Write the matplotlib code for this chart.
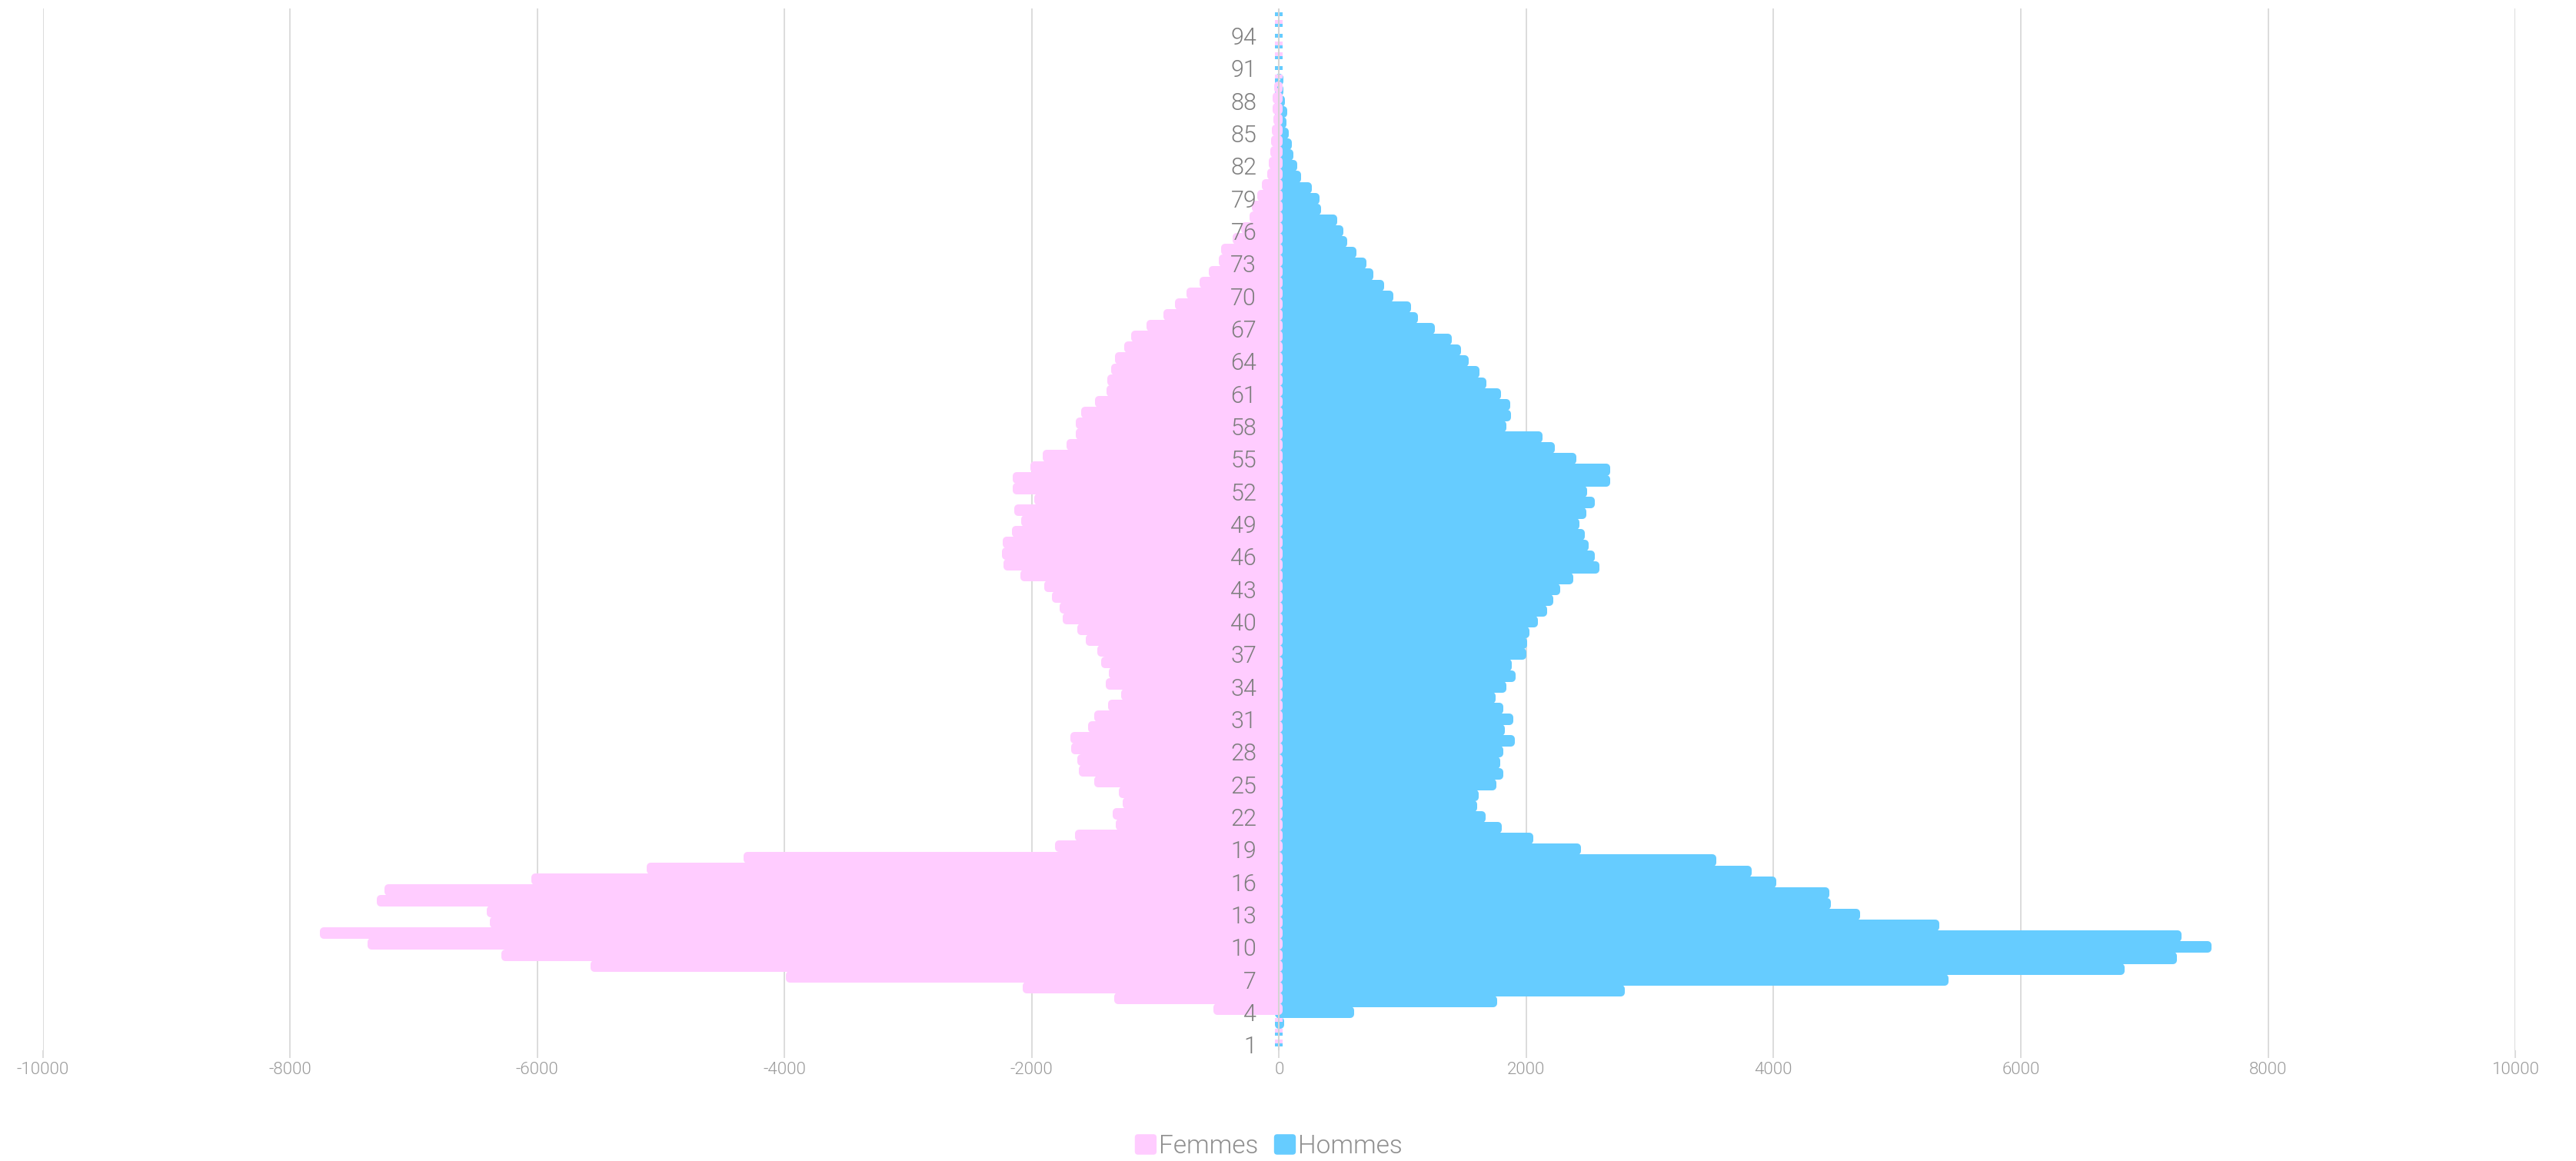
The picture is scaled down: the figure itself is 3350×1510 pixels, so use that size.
"""Pyramide des âges, femmes / hommes."""

import matplotlib

matplotlib.use("Agg")
import matplotlib.pyplot as plt
import numpy as np
from matplotlib.legend_handler import HandlerPatch
from matplotlib.patches import FancyBboxPatch, Patch


AGES = list(range(1, 97))

# effectifs par âge (1 -> 96), femmes en négatif
FEMMES = [
    -30, -30, -35, -528, -1331, -2071, -3988, -5568, -6291, -7374,
    -7760, -6383, -6410, -7299, -7235, -6046, -5113, -4331, -1813, -1653,
    -1320, -1347, -1267, -1293, -1497, -1620, -1631, -1679, -1685, -1546,
    -1492, -1385, -1278, -1401, -1374, -1438, -1471, -1562, -1631, -1749,
    -1773, -1834, -1897, -2092, -2228, -2244, -2236, -2161, -2083, -2144,
    -1978, -2155, -2155, -2008, -1911, -1717, -1645, -1645, -1601, -1490,
    -1398, -1390, -1356, -1329, -1254, -1196, -1074, -932, -843, -746,
    -645, -571, -485, -467, -378, -305, -238, -218, -175, -140,
    -93, -85, -73, -64, -56, -48, -52, -52, -41, -35,
    0, -28, -28, 0, -30, 0,
]
HOMMES = [
    20, 30, 40, 608, 1765, 2797, 5418, 6837, 7262, 7543,
    7301, 5340, 4699, 4464, 4451, 4020, 3824, 3536, 2444, 2059,
    1804, 1673, 1601, 1614, 1758, 1817, 1791, 1817, 1908, 1824,
    1895, 1817, 1752, 1837, 1915, 1882, 2000, 2007, 2026, 2092,
    2167, 2218, 2275, 2380, 2590, 2556, 2504, 2473, 2430, 2485,
    2556, 2490, 2678, 2676, 2406, 2232, 2134, 1836, 1879, 1867,
    1793, 1680, 1621, 1535, 1475, 1396, 1260, 1124, 1069, 926,
    850, 761, 709, 628, 551, 518, 468, 342, 328, 263,
    180, 147, 114, 104, 80, 60, 65, 50, 35, 35,
    15, 20, 20, 20, 15, 15,
]
X_TICKS = [-10000, -8000, -6000, -4000, -2000, 0, 2000, 4000, 6000, 8000, 10000]
Y_TICKS = AGES[::3]
SERIES = ["Femmes", "Hommes"]

PINK = "#ffccff"
BLUE = "#66ccff"
GRID = "#dcdcdc"

plt.rcParams["font.family"] = ["Roboto", "DejaVu Sans"]
plt.rcParams["font.weight"] = 300
plt.rcParams["axes.unicode_minus"] = False

DPI = 100
fig = plt.figure(figsize=(33.5, 15.1), dpi=DPI)
ax = fig.add_axes([0.01657, 0.0954, 0.9599, 0.8971])
ax.set_xlim(X_TICKS[0], X_TICKS[-1])
ax.set_ylim(0.5, len(AGES) + 0.5)

# rounded bar ends: stroke in the fill colour with round joins
stroke_px = 10
lw = stroke_px * 72 / DPI
ax_w_px = fig.get_figwidth() * DPI * 0.9599
pad = (stroke_px / 2) * (X_TICKS[-1] - X_TICKS[0]) / ax_w_px
bar_h = 0.36

ages = np.array(AGES, dtype=float)
fem = np.array(FEMMES, dtype=float)
hom = np.array(HOMMES, dtype=float)

mh = hom != 0
ax.barh(ages[mh], np.maximum(hom[mh] - pad, 0), left=0, height=bar_h,
        color=BLUE, edgecolor=BLUE, linewidth=lw, joinstyle="round", zorder=2)
mf = fem != 0
ax.barh(ages[mf] + 0.28, -np.maximum(-fem[mf] - pad, 0), left=0, height=bar_h,
        color=PINK, edgecolor=PINK, linewidth=lw, joinstyle="round", zorder=3)

ax.axvline(0, color="#d4d4d4", linewidth=1.5, zorder=4)

for s in ax.spines.values():
    s.set_visible(False)

ax.set_xticks(X_TICKS)
ax.set_xticklabels([str(v) for v in X_TICKS])
ax.xaxis.grid(True, color=GRID, linewidth=1.4)
ax.tick_params(axis="x", length=7, width=1.4, color=GRID, pad=4,
               labelsize=16, labelcolor="#999999")

ax.spines["left"].set_position(("data", 0))
ax.set_yticks(Y_TICKS)
ax.set_yticklabels([str(a) for a in Y_TICKS])
ax.tick_params(axis="y", length=0, pad=21, labelsize=22, labelcolor="#7d7d7d")

ax.set_axisbelow(True)
ax.yaxis.set_zorder(5)


def rounded_handle(legend, orig_handle, xdescent, ydescent, width, height, fontsize):
    return FancyBboxPatch((-xdescent, -ydescent), width, height,
                          boxstyle="round,pad=0,rounding_size=3",
                          facecolor=orig_handle.get_facecolor(), edgecolor="none")


handles = [Patch(facecolor=PINK), Patch(facecolor=BLUE)]
fig.legend(handles, SERIES, loc="center", bbox_to_anchor=(1650 / 3350, 1 - 1491 / 1510),
           ncol=2, frameon=False, fontsize=24, labelcolor="#8f8f8f",
           handlelength=0.85, handleheight=0.85, handletextpad=0.1, columnspacing=0.6,
           handler_map={Patch: HandlerPatch(patch_func=rounded_handle)})

fig.savefig("out.png", dpi=DPI)
